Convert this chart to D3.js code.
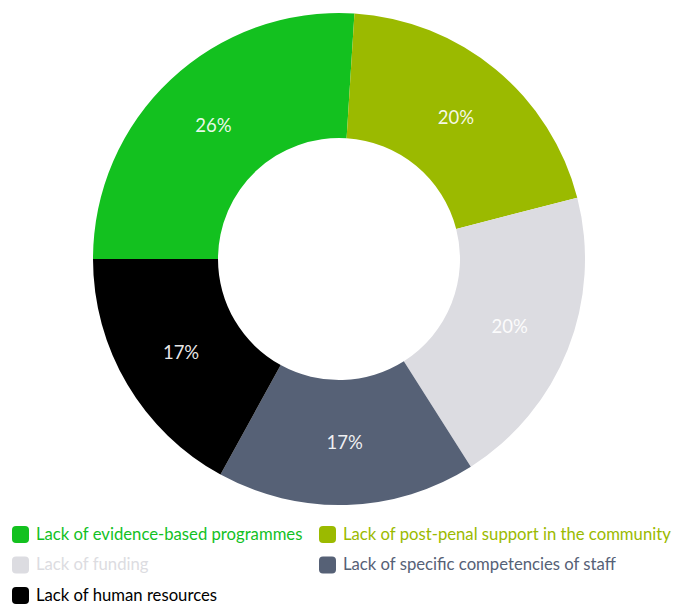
<!DOCTYPE html>
<html>
<head>
<meta charset="utf-8">
<script src="https://cdn.jsdelivr.net/npm/d3@7"></script>
<style>
  html, body { margin: 0; padding: 0; background: #ffffff; }
  svg { display: block; font-family: Lato, "Open Sans", sans-serif; }
</style>
</head>
<body>
<svg id="chart" width="673" height="605"></svg>
<script>
// Barriers and their shares (%)
const categories = [
  "Lack of evidence-based programmes",
  "Lack of post-penal support in the community",
  "Lack of funding",
  "Lack of specific competencies of staff",
  "Lack of human resources"
];
const values = [26, 20, 20, 17, 17];
const colors = ["#13c11f", "#9bba00", "#dcdce1", "#566176", "#000000"];

const data = categories.map((c, i) => ({ name: c, value: values[i], color: colors[i] }));

const svg = d3.select("#chart");
const cx = 339, cy = 259, outerR = 246, innerR = 121;

const pie = d3.pie()
  .value(d => d.value)
  .sort(null)
  .startAngle(-Math.PI / 2)
  .endAngle(3 * Math.PI / 2);

const arc = d3.arc().innerRadius(innerR).outerRadius(outerR);

const g = svg.append("g").attr("transform", `translate(${cx},${cy})`);
const arcs = pie(data);

g.selectAll("path.slice")
  .data(arcs)
  .join("path")
  .attr("class", "slice")
  .attr("d", arc)
  .attr("fill", d => d.data.color);

const total = d3.sum(values);
g.selectAll("text.pct")
  .data(arcs)
  .join("text")
  .attr("class", "pct")
  .attr("transform", d => `translate(${arc.centroid(d)})`)
  .attr("text-anchor", "middle")
  .attr("dy", "0.35em")
  .attr("fill", "#ffffff")
  .attr("fill-opacity", 0.92)
  .attr("font-size", 18.5)
  .text(d => Math.round(d.data.value / total * 100) + "%");

// Legend: two columns, wrapping rows
const legendX = [12, 319];
const legendY0 = 534, rowH = 30.5;
const legend = svg.append("g");
const items = legend.selectAll("g.item")
  .data(data)
  .join("g")
  .attr("class", "item")
  .attr("transform", (d, i) => `translate(${legendX[i % 2]},${legendY0 + Math.floor(i / 2) * rowH})`);

items.append("rect")
  .attr("x", 0).attr("y", -8)
  .attr("width", 17).attr("height", 17)
  .attr("rx", 4).attr("ry", 4)
  .attr("fill", d => d.color);

items.append("text")
  .attr("x", 24)
  .attr("y", 0)
  .attr("dy", "0.35em")
  .attr("font-size", 16.7)
  .attr("fill", d => d.color)
  .text(d => d.name);
</script>
</body>
</html>
